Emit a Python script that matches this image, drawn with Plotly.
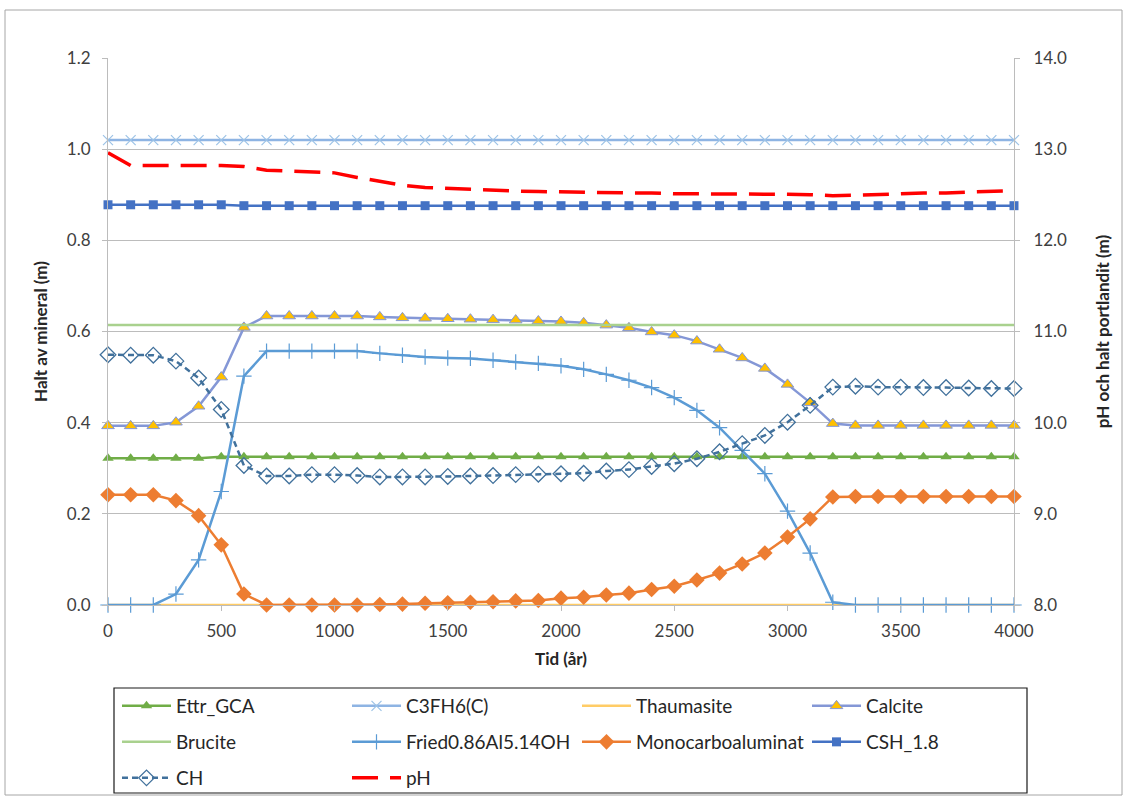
import plotly.graph_objects as go

# Time axis (years), one value per 100 years
tid = list(range(0, 4001, 100))

ettr_gca = [0.322, 0.322, 0.322, 0.322, 0.322] + [0.325] * 36
c3fh6 = [1.02] * 41
thaumasite = [0.0] * 41
calcite = [0.393, 0.393, 0.393, 0.401, 0.436, 0.500, 0.609, 0.634, 0.634, 0.634,
           0.634, 0.634, 0.632, 0.630, 0.629, 0.628, 0.627, 0.626, 0.625, 0.623,
           0.622, 0.619, 0.614, 0.608, 0.599, 0.592, 0.579, 0.561, 0.542, 0.519,
           0.484, 0.444, 0.398, 0.394, 0.394, 0.394, 0.394, 0.394, 0.394, 0.394,
           0.394]
brucite = [0.614] * 41
fried = [0.0, 0.0, 0.0, 0.024, 0.099, 0.249, 0.502, 0.557, 0.557, 0.557,
         0.557, 0.557, 0.552, 0.548, 0.544, 0.542, 0.541, 0.537, 0.533, 0.530,
         0.525, 0.517, 0.506, 0.493, 0.477, 0.455, 0.427, 0.389, 0.339, 0.288,
         0.206, 0.114, 0.006, 0.0, 0.0, 0.0, 0.0, 0.0, 0.0, 0.0,
         0.0]
monocarbo = [0.242, 0.242, 0.242, 0.229, 0.196, 0.132, 0.024, 0.0, 0.0, 0.0,
             0.0, 0.0, 0.001, 0.002, 0.004, 0.005, 0.006, 0.007, 0.009, 0.010,
             0.015, 0.017, 0.022, 0.026, 0.034, 0.041, 0.055, 0.070, 0.090, 0.114,
             0.149, 0.189, 0.237, 0.238, 0.238, 0.238, 0.238, 0.238, 0.238, 0.238,
             0.238]
csh = [0.878] * 6 + [0.876] * 35
ch = [0.549, 0.548, 0.548, 0.535, 0.498, 0.429, 0.306, 0.283, 0.283, 0.286,
      0.286, 0.284, 0.281, 0.281, 0.281, 0.282, 0.283, 0.284, 0.286, 0.287,
      0.288, 0.289, 0.294, 0.297, 0.304, 0.310, 0.321, 0.336, 0.354, 0.372,
      0.401, 0.438, 0.478, 0.480, 0.478, 0.478, 0.477, 0.477, 0.476, 0.475,
      0.475]
ph = [12.96, 12.82, 12.82, 12.82, 12.82, 12.82, 12.81, 12.77, 12.76, 12.75,
      12.74, 12.69, 12.645, 12.605, 12.58, 12.57, 12.555, 12.55, 12.54, 12.535,
      12.53, 12.53, 12.52, 12.52, 12.52, 12.51, 12.51, 12.51, 12.51, 12.51,
      12.505, 12.50, 12.49, 12.495, 12.50, 12.51, 12.52, 12.52, 12.53, 12.54,
      12.545]

left_ticks = [0.0, 0.2, 0.4, 0.6, 0.8, 1.0, 1.2]
right_ticks = [8.0, 9.0, 10.0, 11.0, 12.0, 13.0, 14.0]
x_ticks = list(range(0, 4001, 500))

FONT = "Lato"
TXT = "#404040"
GRID = "#BCBCBC"
LW = 2.5

# pixel geometry of the plot area
L, R, T, B = 108, 1014, 58, 605
W, H = 1128, 798
pw, ph_ = R - L, B - T


def px(xp):
    return (xp - L) / pw


def py(yp):
    return (B - yp) / ph_


# legend grid: 4 columns, 3 rows
COL_X = [121, 351, 581, 811]
ROW_Y = [706, 742, 778]

fig = go.Figure()
legend_layout = {}
count = [0]


def add(name, y, color, symbol=None, msize=9, mcolor=None, mline=None,
        mlw=1, dash="solid", width=LW, yaxis="y"):
    i = count[0]
    count[0] += 1
    lid = "legend" if i == 0 else f"legend{i + 1}"
    legend_layout[lid] = dict(
        orientation="h", xanchor="left", yanchor="middle",
        x=px(COL_X[i % 4] - 4), y=py(ROW_Y[i // 4]),
        bgcolor="rgba(0,0,0,0)", borderwidth=0, itemwidth=49,
        font=dict(family=FONT, size=19, color="#262626"), itemclick=False)
    mode = "lines+markers" if symbol else "lines"
    marker = None
    if symbol:
        marker = dict(symbol=symbol, size=msize, color=mcolor or color,
                      line=dict(color=mline or color, width=mlw))
    fig.add_trace(go.Scatter(
        x=tid, y=y, name=name, mode=mode, yaxis=yaxis, legend=lid,
        line=dict(color=color, width=width, dash=dash), marker=marker,
        cliponaxis=False))


add("Ettr_GCA", ettr_gca, "#70AD47", "triangle-up", 10, mlw=0)
add("C3FH6(C)", c3fh6, "#8EB4E3", "x-thin", 10, mline="#9DC3E6", mlw=1.2)
add("Thaumasite", thaumasite, "#FFCC66")
add("Calcite", calcite, "#8497D6", "triangle-up", 11, mcolor="#FFC000",
    mline="#8497D6", mlw=1)
add("Brucite", brucite, "#A9D18E")
add("Fried0.86Al5.14OH", fried, "#5B9BD5", "cross-thin", 11,
    mline="#5B9BD5", mlw=1.2)
add("Monocarboaluminat", monocarbo, "#ED7D31", "diamond", 12, mlw=0)
add("CSH_1.8", csh, "#4472C4", "square", 9, mlw=0)
add("CH", ch, "#41719C", "diamond-open", 12, mline="#8EB4E3",
    mlw=1.3, dash="6px,4px")
add("pH", ph, "#FF0000", dash="26px,12px", width=3.5, yaxis="y2")

fig.update_layout(
    width=W, height=H,
    margin=dict(l=L, r=W - R, t=T, b=H - B, autoexpand=False),
    paper_bgcolor="white", plot_bgcolor="white",
    font=dict(family=FONT, size=17, color=TXT),
    showlegend=True,
    xaxis=dict(range=[0, 4000], tickvals=x_ticks, ticks="outside", ticklen=5,
               tickcolor=GRID, showline=True, linecolor=GRID, linewidth=1,
               showgrid=False, zeroline=False, ticklabelstandoff=6,
               tickfont=dict(family=FONT, size=17, color=TXT),
               title=dict(text="<b>Tid (år)</b>", standoff=12,
                          font=dict(family=FONT, size=17, color="#262626"))),
    yaxis=dict(range=[0, 1.2], tickvals=left_ticks, tickformat=".1f",
               ticks="outside", ticklen=5, tickcolor=GRID, showline=True,
               linecolor=GRID, showgrid=True, gridcolor=GRID, gridwidth=1,
               zeroline=False, ticklabelstandoff=8,
               tickfont=dict(family=FONT, size=17, color=TXT),
               title=dict(text="<b>Halt av mineral (m)</b>", standoff=14,
                          font=dict(family=FONT, size=17, color="#262626"))),
    yaxis2=dict(range=[8, 14], tickvals=right_ticks, tickformat=".1f",
                overlaying="y", side="right", ticks="outside", ticklen=5,
                tickcolor=GRID, showline=True, linecolor=GRID, showgrid=False,
                zeroline=False, ticklabelstandoff=10,
                tickfont=dict(family=FONT, size=17, color=TXT),
                title=dict(text="<b>pH och halt portlandit (m)</b>", standoff=30,
                           font=dict(family=FONT, size=17, color="#262626"))),
    shapes=[
        # legend frame
        dict(type="rect", xref="paper", yref="paper",
             x0=px(114), x1=px(1027), y0=py(688), y1=py(793),
             line=dict(color="#1a1a1a", width=1.2), fillcolor="rgba(0,0,0,0)"),
        # chart frame
        dict(type="rect", xref="paper", yref="paper",
             x0=px(5), x1=px(1122), y0=py(10), y1=py(795),
             line=dict(color="#A6A6A6", width=1), fillcolor="rgba(0,0,0,0)"),
    ],
    **legend_layout,
)

fig.write_html("out.html")
